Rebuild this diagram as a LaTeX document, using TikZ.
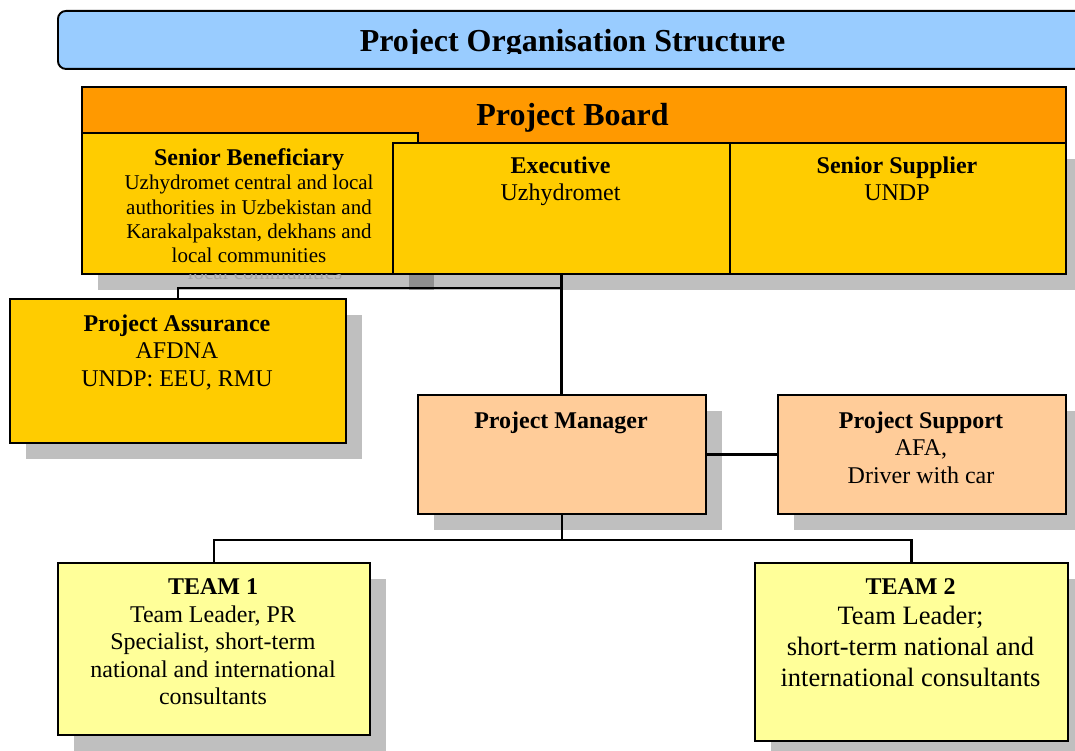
\documentclass[tikz,border=0pt]{standalone}
\usepackage{fontspec}
\setmainfont{Liberation Serif}
\usetikzlibrary{shadows}
\definecolor{titleblue}{HTML}{99CCFF}
\definecolor{boardorange}{HTML}{FF9900}
\definecolor{gold}{HTML}{FFCC00}
\definecolor{peach}{HTML}{FFCC99}
\definecolor{paleyellow}{HTML}{FFFF99}
\definecolor{ghostgray}{HTML}{A3A3A3}
\tikzset{
  box/.style={draw=black, line width=1.9pt, rectangle, inner sep=0pt, anchor=north west},
  shad/.style={drop shadow={shadow xshift=16pt, shadow yshift=-16pt, fill=black, opacity=.25}},
  hd/.style={anchor=base, inner sep=0pt, font=\fontsize{24}{27}\selectfont\bfseries},
  bd/.style={anchor=base, inner sep=0pt, align=center, font=\fontsize{24}{27.5}\selectfont},
  conn/.style={line width=2.2pt}
}
\begin{document}
\begin{tikzpicture}[x=1pt,y=-1pt]
\clip (0,0) rectangle (1075,751);
% title bar
\node[box, fill=titleblue, rounded corners=8pt, minimum width=1050pt, minimum height=58pt] (titlebar) at (57,10) {};
\begin{scope}
  \clip (0,0) rectangle (1075,54);
  \node[anchor=base, inner sep=0pt, font=\fontsize{32}{34}\selectfont\bfseries] (title) at (572.5,52) {Project Organisation Structure};
\end{scope}
% project board
\node[box, fill=boardorange, minimum width=984pt, minimum height=56pt] (board) at (81,86) {};
\node[anchor=base, inner sep=0pt, font=\fontsize{32}{34}\selectfont\bfseries] (boardt) at (572.5,126) {Project Board};
% board members
\node[box, shad, fill=gold, minimum width=336pt, minimum height=141pt] (sb) at (81,132) {};
\node[hd] (sbh) at (249,166) {Senior Beneficiary};
\node[bd, font=\fontsize{21}{24.1}\selectfont] (sbb) at (249,262.3) {Uzhydromet central and local\\authorities in Uzbekistan and\\Karakalpakstan, dekhans and\\local communities};
\node[box, shad, fill=gold, minimum width=337pt, minimum height=131pt] (exec) at (392,142) {};
\node[hd] (exech) at (560.5,174) {Executive};
\node[bd] (execb) at (560.5,201) {Uzhydromet};
\node[box, shad, fill=gold, minimum width=336pt, minimum height=131pt] (ss) at (729,142) {};
\node[hd] (ssh) at (897,174) {Senior Supplier};
\node[bd] (ssb) at (897,201) {UNDP};
% ghost text in shadow
\begin{scope}
  \clip (81,274) rectangle (434,292);
  \node[anchor=base, inner sep=0pt, text=ghostgray, font=\fontsize{21}{24}\selectfont] (ghost) at (265,279) {local communities};
\end{scope}
% assurance
\node[box, shad, fill=gold, minimum width=336pt, minimum height=144pt] (pa) at (9,298) {};
\node[hd] (pah) at (177,331) {Project Assurance};
\node[bd, font=\fontsize{24}{28}\selectfont] (pab) at (177,386) {AFDNA\\UNDP: EEU, RMU};
% manager and support
\node[box, shad, fill=peach, minimum width=288pt, minimum height=119pt] (pm) at (417,394) {};
\node[hd] (pmh) at (561,428) {Project Manager};
\node[box, shad, fill=peach, minimum width=288pt, minimum height=119pt] (ps) at (777,394) {};
\node[hd] (psh) at (921,428) {Project Support};
\node[bd, font=\fontsize{24}{28}\selectfont] (psb) at (921,483) {AFA,\\Driver with car};
% teams
\node[box, shad, fill=paleyellow, minimum width=312pt, minimum height=172pt] (t1) at (57,562) {};
\node[hd] (t1h) at (213,594) {TEAM 1};
\node[bd] (t1b) at (213,704.5) {Team Leader, PR\\Specialist, short-term\\national and international\\consultants};
\node[box, shad, fill=paleyellow, minimum width=313pt, minimum height=178pt] (t2) at (754,562) {};
\node[hd] (t2h) at (910.5,594) {TEAM 2};
\node[bd, font=\fontsize{26.5}{31}\selectfont] (t2b) at (910.5,686) {Team Leader;\\short-term national and\\international consultants};
% connectors
\path (exec.south) ++(0,13) coordinate (jn);
\draw[conn] (exec.south) -- (exec.south |- pm.north);
\draw[conn] (pa.north) |- (jn);
\draw[conn] (pm.east) -- (ps.west);
\path (pm.south) ++(0,25) coordinate (bus);
\draw[conn] (pm.south) -- (bus);
\draw[conn] (t1.north) |- (bus) -| (t2.north);
\end{tikzpicture}
\end{document}
